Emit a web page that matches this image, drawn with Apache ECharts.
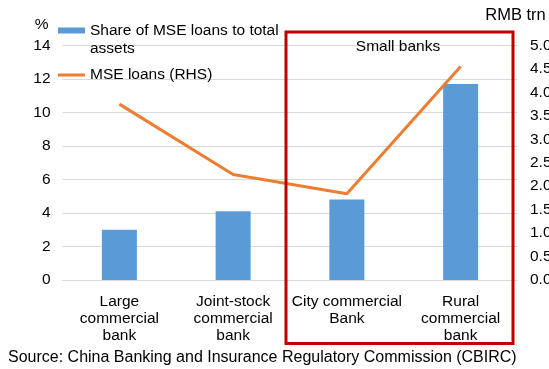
<!DOCTYPE html>
<html>
<head>
<meta charset="utf-8">
<script src="https://cdn.jsdelivr.net/npm/echarts@6/dist/echarts.min.js"></script>
<style>
  html, body { margin: 0; padding: 0; background: #fff; }
  #chart { width: 549px; height: 369px; }
</style>
</head>
<body>
<div id="chart"></div>
<script>
// Bank categories
const categories = [
  'Large\ncommercial\nbank',
  'Joint-stock\ncommercial\nbank',
  'City commercial\nBank',
  'Rural\ncommercial\nbank'
];
// Share of MSE loans to total assets (%)
const shareValues = [3.0, 4.1, 4.8, 11.7];
// MSE loans outstanding (RMB trn, right-hand scale)
const loanValues = [3.75, 2.25, 1.84, 4.55];
// Tick settings
const leftTicks = { min: 0, max: 14, interval: 2 };
const rightTicks = { min: 0, max: 5, interval: 0.5 };

const barName = 'Share of MSE loans to total assets';
const lineName = 'MSE loans (RHS)';
const FONT = '"Liberation Sans", Arial, sans-serif';
const FS = 15.5;
const TXT = '#000000';

const chart = echarts.init(document.getElementById('chart'), null, { renderer: 'canvas' });

chart.setOption({
  animation: false,
  backgroundColor: '#ffffff',
  textStyle: { fontFamily: FONT },
  grid: {
    left: 62.5, right: 31.5, top: 45.5, bottom: 89,
    containLabel: false,
    outerBoundsMode: 'none'   // let the right-hand tick labels run to the edge
  },
  legend: [
    {
      data: [{ name: barName, icon: 'path://M0,0H27V6H0Z M0,24L27,24' }],
      left: 58, top: 21.5, padding: 0,
      itemWidth: 27, itemHeight: 24, itemGap: 0,
      selectedMode: false,
      formatter: () => 'Share of MSE loans to total\nassets',
      textStyle: { fontFamily: FONT, fontSize: FS, color: TXT, lineHeight: 18 }
    },
    {
      data: [{ name: lineName, icon: 'rect' }],
      left: 58, top: 66, padding: 0,
      itemWidth: 27, itemHeight: 3,
      selectedMode: false,
      textStyle: { fontFamily: FONT, fontSize: FS, color: TXT, lineHeight: 18 }
    }
  ],
  xAxis: {
    type: 'category',
    data: categories,
    axisLine: { show: true, lineStyle: { color: '#D9D9D9', width: 1 } },
    axisTick: { show: false },
    axisLabel: {
      interval: 0, margin: 13.5, color: TXT,
      fontFamily: FONT, fontSize: FS, lineHeight: 17, align: 'center'
    }
  },
  yAxis: [
    {
      type: 'value',
      min: leftTicks.min, max: leftTicks.max, interval: leftTicks.interval,
      name: '%',
      nameLocation: 'end',
      nameGap: 21,
      nameTextStyle: {
        fontFamily: FONT, fontSize: FS, color: TXT,
        align: 'right', verticalAlign: 'middle', padding: [0, 14, 0, 0]
      },
      axisLine: { show: false },
      axisTick: { show: false },
      axisLabel: { margin: 12, color: TXT, fontFamily: FONT, fontSize: FS },
      splitLine: { show: true, lineStyle: { color: '#D9D9D9', width: 1 } }
    },
    {
      type: 'value',
      position: 'right',
      min: rightTicks.min, max: rightTicks.max, interval: rightTicks.interval,
      name: 'RMB trn',
      nameLocation: 'end',
      nameGap: 30.5,
      nameTextStyle: {
        fontFamily: FONT, fontSize: 16.5, color: TXT,
        align: 'center', verticalAlign: 'middle', padding: [0, 4, 0, 0]
      },
      axisLine: { show: false },
      axisTick: { show: false },
      axisLabel: {
        margin: 12.5, color: TXT, fontFamily: FONT, fontSize: FS,
        formatter: v => v.toFixed(1)
      },
      splitLine: { show: false }
    }
  ],
  graphic: [
    {
      type: 'rect',
      shape: { x: 286, y: 32, width: 227, height: 311.5 },
      style: { fill: 'none', stroke: '#C00000', lineWidth: 3 },
      z: 10
    },
    {
      type: 'text',
      x: 398, y: 47,
      style: {
        text: 'Small banks',
        fontFamily: FONT, fontSize: FS, fill: TXT,
        align: 'center', verticalAlign: 'middle'
      },
      z: 10
    },
    {
      type: 'text',
      x: 8, y: 358,
      style: {
        text: 'Source: China Banking and Insurance Regulatory Commission (CBIRC)',
        fontFamily: FONT, fontSize: 16, fill: TXT,
        align: 'left', verticalAlign: 'middle'
      },
      z: 10
    }
  ],
  series: [
    {
      name: barName,
      type: 'bar',
      yAxisIndex: 0,
      data: shareValues,
      barWidth: 35,
      itemStyle: { color: '#5B9BD5' },
      z: 2
    },
    {
      name: lineName,
      type: 'line',
      yAxisIndex: 1,
      data: loanValues,
      symbol: 'none',
      lineStyle: { color: '#ED7D31', width: 3 },
      itemStyle: { color: '#ED7D31' },
      z: 3
    }
  ]
});
</script>
</body>
</html>
